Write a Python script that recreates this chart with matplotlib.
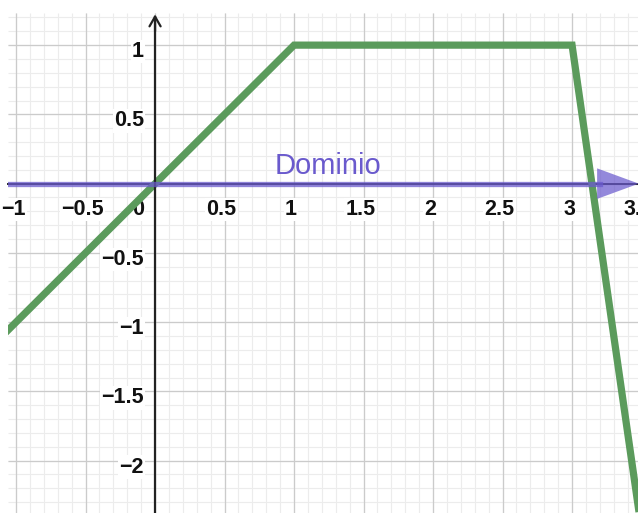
import numpy as np
import matplotlib
matplotlib.use("Agg")
import matplotlib.pyplot as plt
from matplotlib.transforms import ScaledTranslation

# piecewise function (vertices)
f_x = [-1.2, 1, 3, 3.6]
f_y = [-1.2, 1, 1, -3.2]

x_ticks = [-1, -0.5, 0.5, 1, 1.5, 2, 2.5, 3, 3.5]
x_labels = ["\u22121", "\u22120.5", "0.5", "1", "1.5", "2", "2.5", "3", "3.5"]
y_ticks = [-2, -1.5, -1, -0.5, 0.5, 1]
y_labels = ["\u22122", "\u22121.5", "\u22121", "\u22120.5", "0.5", "1"]

x_lim = (-1.058, 3.52)
y_lim = (-2.39, 1.232)

green = "#5b9b5c"
purple = "#6a5acd"

plt.rcParams['font.family'] = ['Liberation Sans', 'DejaVu Sans']

W, H = 638, 513
fig = plt.figure(figsize=(W / 100, H / 100), dpi=100)
sx, sy = 139.0, 138.5
left_px, top_px = 8, 13
w_px = (x_lim[1] - x_lim[0]) * sx
h_px = (y_lim[1] - y_lim[0]) * sy
ax = fig.add_axes([left_px / W, (H - top_px - h_px) / H, w_px / W, h_px / H])
ax.set_xlim(*x_lim)
ax.set_ylim(*y_lim)

# grid (drawn by hand so the labels' white boxes sit on top)
minor_x = np.round(np.arange(-1.0, 3.51, 0.1), 2)
minor_y = np.round(np.arange(-2.3, 1.21, 0.1), 2)
major_x = np.arange(-1.0, 3.51, 0.5)
major_y = np.arange(-2.0, 1.01, 0.5)
ax.vlines(minor_x, *y_lim, color='#ececec', lw=0.8, zorder=0.1)
ax.hlines(minor_y, *x_lim, color='#ececec', lw=0.8, zorder=0.1)
ax.vlines(major_x, *y_lim, color='#cbcbcb', lw=0.9, zorder=0.2)
ax.hlines(major_y, *x_lim, color='#cbcbcb', lw=0.9, zorder=0.2)

ax.set_xticks(x_ticks)
ax.set_xticklabels(x_labels)
ax.set_yticks(y_ticks)
ax.set_yticklabels(y_labels)
ax.set_xlim(*x_lim)
ax.set_ylim(*y_lim)

for s in ['top', 'right']:
    ax.spines[s].set_visible(False)
ax.spines['left'].set_position(('data', 0))
ax.spines['bottom'].set_position(('data', 0))
ax.spines['left'].set_color('#222222')
ax.spines['bottom'].set_color('#222222')
ax.spines['left'].set_linewidth(1.6)
ax.spines['bottom'].set_linewidth(1.4)
ax.spines['left'].set_bounds(y_lim[0], 1.2)
ax.spines['left'].set_zorder(4)

lab_box = dict(facecolor='white', edgecolor='none', pad=1.0)
ax.tick_params(which='both', length=0)
ax.tick_params(axis='x', pad=11, labelsize=15.5)
ax.tick_params(axis='y', pad=8, labelsize=15.5)
for lab in ax.get_xticklabels() + ax.get_yticklabels():
    lab.set_fontweight('bold')
    lab.set_color('#111111')
    lab.set_bbox(lab_box)
for lab in ax.get_yticklabels():
    lab.set_transform(lab.get_transform() + ScaledTranslation(0, -4 / 100, fig.dpi_scale_trans))
for lab in ax.get_xticklabels():
    lab.set_transform(lab.get_transform() + ScaledTranslation(-3 / 100, 0, fig.dpi_scale_trans))

ax.annotate("0", xy=(0, 0), xytext=(-8, -11), textcoords='offset points',
            ha='right', va='top', fontsize=15.5, fontweight='bold', color='#111111',
            bbox=lab_box, zorder=2)

# y axis arrow
ax.annotate('', xy=(0, 1.222), xytext=(0, 1.1),
            arrowprops=dict(arrowstyle='->,head_length=0.7,head_width=0.4',
                            color='#222222', lw=1.6, shrinkA=0, shrinkB=0),
            zorder=5)

# function
ax.plot(f_x, f_y, color=green, lw=5.2, solid_joinstyle='miter',
        solid_capstyle='butt', zorder=3)

# domain
ax.plot([x_lim[0] - 0.1, 3.2], [0, 0], color=purple, lw=3.8, alpha=0.75, zorder=6)
ax.annotate('', xy=(3.48, 0), xytext=(3.16, 0),
            arrowprops=dict(arrowstyle='-|>,head_length=1.5,head_width=0.55',
                            facecolor=purple, edgecolor='none', alpha=0.72, lw=0,
                            shrinkA=0, shrinkB=0, mutation_scale=20),
            zorder=6)
ax.text(0.86, 0.072, "Dominio", color=purple, fontsize=21, ha='left',
        va='baseline', zorder=7)

fig.savefig("out.png", dpi=100)
